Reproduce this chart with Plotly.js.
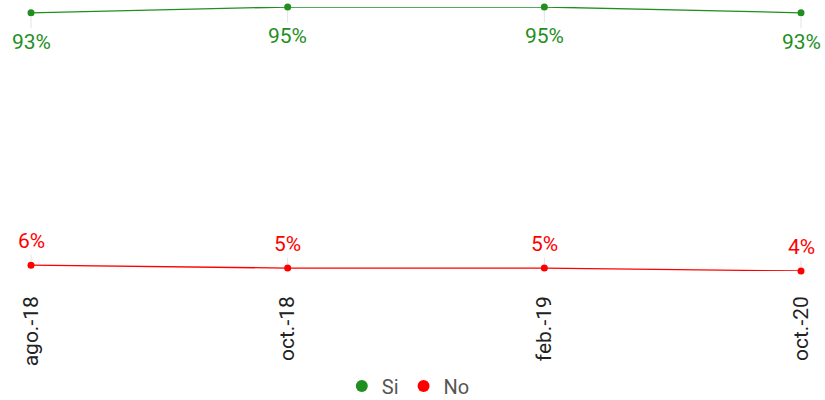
<!DOCTYPE html>
<html>
<head>
<meta charset="utf-8">
<script src="https://cdn.plot.ly/plotly-3.0.1.min.js"></script>
<style>html,body{margin:0;padding:0;background:#fff;}#chart{width:825px;height:400px;}</style>
</head>
<body>
<div id="chart"></div>
<script>
const categories = ["ago.-18", "oct.-18", "feb.-19", "oct.-20"];
const siValues = [93, 95, 95, 93];
const noValues = [6, 5, 5, 4];
const seriesNames = ["Si", "No"];
const green = "#1f8f1f";
const red = "#ff0000";

const traces = [];
[[siValues, green, seriesNames[0]], [noValues, red, seriesNames[1]]].forEach(([vals, col, name]) => {
  traces.push({x: categories, y: vals, type: "scatter", mode: "lines", line: {color: col, width: 1.3},
    showlegend: false, legendgroup: name, hoverinfo: "skip", cliponaxis: false});
  traces.push({x: categories, y: vals, type: "scatter", mode: "markers", name: name,
    marker: {color: col, size: 7}, legendgroup: name, cliponaxis: false});
});

const annotations = [];
categories.forEach((c, i) => {
  annotations.push({x: c, y: siValues[i], xref: "x", yref: "y", text: siValues[i] + "%",
    showarrow: true, arrowhead: 0, arrowwidth: 1, arrowcolor: "#e2e2e2", ax: 0, ay: 29, standoff: 4,
    font: {family: "Roboto", size: 21, color: green}});
  annotations.push({x: c, y: noValues[i], xref: "x", yref: "y", text: noValues[i] + "%",
    showarrow: true, arrowhead: 0, arrowwidth: 1, arrowcolor: "#e2e2e2", ax: 0, ay: -24, standoff: 4,
    font: {family: "Roboto", size: 21, color: red}});
});

const layout = {
  width: 825, height: 400,
  margin: {l: 31, r: 24, t: 7, b: 129},
  paper_bgcolor: "#fff", plot_bgcolor: "#fff",
  font: {family: "Roboto", size: 21, color: "#222"},
  xaxis: {type: "category", range: [0, 3], showgrid: false, zeroline: false, showline: false,
    ticks: "", tickangle: -90, ticklabelstandoff: 20, automargin: false,
    tickfont: {family: "Roboto", size: 21, color: "#222"}},
  yaxis: {range: [4, 95], showgrid: false, zeroline: false, showline: false, showticklabels: false, ticks: ""},
  legend: {orientation: "h", x: 0.49, xanchor: "center", xref: "paper", y: 0.035, yanchor: "middle", yref: "container",
    itemsizing: "constant", font: {family: "Roboto", size: 20, color: "#555"}, itemwidth: 30},
  annotations: annotations,
  showlegend: true
};

Plotly.newPlot("chart", traces, layout, {displayModeBar: false, staticPlot: true});
</script>
</body>
</html>
